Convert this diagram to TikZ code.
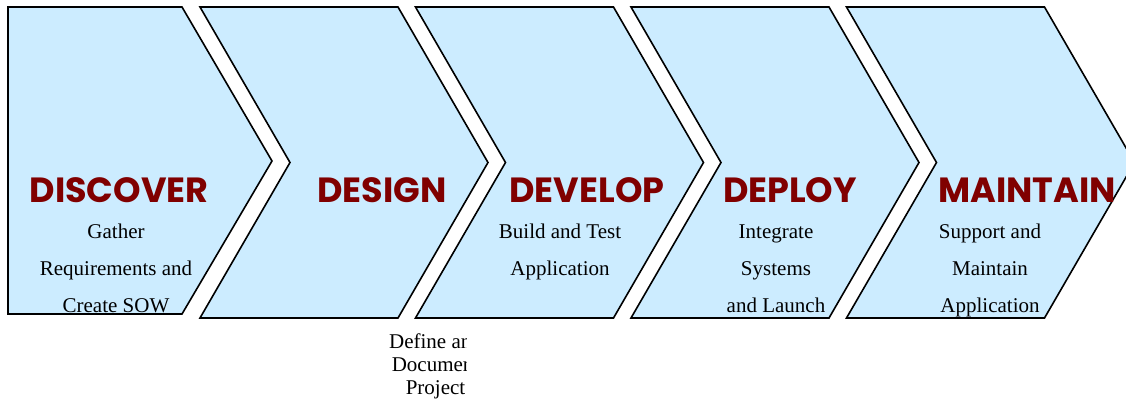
\documentclass[tikz,border=0pt]{standalone}
\usepackage{fontspec}
\setmainfont{Liberation Serif}
\newfontfamily\phasefont{Poppins}
\usepackage{tikz}
\definecolor{chevfill}{RGB}{204,236,255}
\definecolor{phasered}{RGB}{128,0,0}
\tikzset{
	chevron/.style={draw=black, line width=1.6bp, fill=chevfill, line join=miter},
	phase/.style={text=phasered, font=\phasefont\bfseries\fontsize{35bp}{35bp}\selectfont, anchor=base, inner sep=0pt},
	task/.style={font=\fontsize{21bp}{37bp}\selectfont, align=center, anchor=base, inner sep=0pt}
}

\begin{document}
\begin{tikzpicture}[x=1bp, y=-1bp]
			%%%%% START %%%%%
			\useasboundingbox (0, 0) rectangle (1126, 402);
			
			% first step, flat back
			\draw[chevron] (8, 7) -- (182, 7) -- (272, 161) -- (182, 314) -- (8, 314) -- cycle;
			
			% notched steps
			\foreach \i in {0, 1, 2, 3}
			{
				\pgfmathsetmacro{\xl}{200 + 215.5*\i}
				\draw[chevron] (\xl, 7) -- (\xl + 198, 7) -- (\xl + 288, 162.5) -- (\xl + 198, 318)
					-- (\xl, 318) -- (\xl + 90, 162.5) -- cycle;
			}
			
			\node[phase] (discover) at (119, 202) {DISCOVER};
			\node[phase] (design) at (382, 202) {DESIGN};
			\node[phase] (develop) at (587, 202) {DEVELOP};
			\node[phase] (deploy) at (790, 202) {DEPLOY};
			\node[phase] (maintain) at (1027, 202) {MAINTAIN};
			
			% anchored on the baseline of the last line
			\node[task] (gather) at (116, 312) {Gather\\Requirements and\\Create SOW};
			\node[task] (build) at (560, 275) {Build and Test\\Application};
			\node[task] (integrate) at (776, 312) {Integrate\\Systems\\and Launch};
			\node[task] (support) at (990, 312) {Support and\\Maintain\\Application};
			
			% this one sits under the chevrons and is cut off on the right
			\begin{scope}
				\clip (300, 322) rectangle (466, 402);
				\node[task, font=\fontsize{21bp}{23bp}\selectfont] (define) at (435.5, 394) {Define and\\Document\\Project};
			\end{scope}
			
			%%%%% END %%%%%
\end{tikzpicture}
\end{document}
